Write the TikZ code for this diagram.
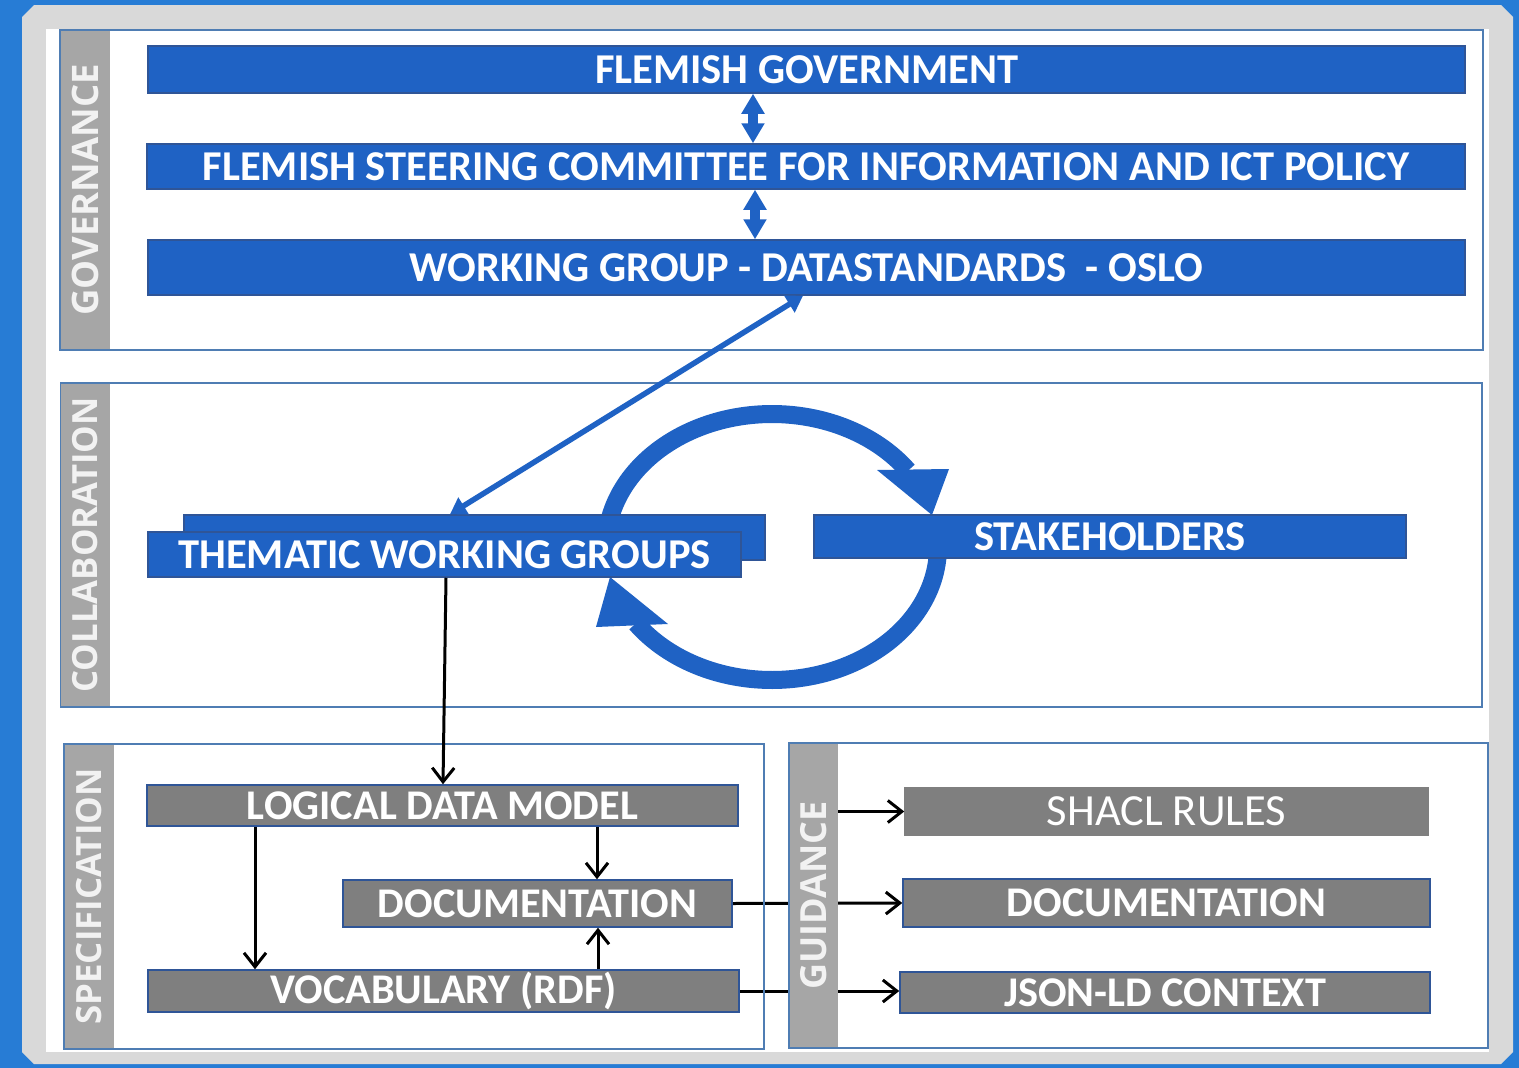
\documentclass[tikz,border=0pt]{standalone}
\usepackage{fontspec}
\setmainfont{Carlito}
\newfontfamily\lblfont{Open Sans}
\usetikzlibrary{arrows.meta,calc}
\definecolor{bgblue}{HTML}{277CD5}
\definecolor{framegray}{HTML}{D9D9D9}
\definecolor{panelc}{HTML}{4F7DB3}
\definecolor{stripc}{HTML}{A6A6A6}
\definecolor{barblue}{HTML}{1F62C4}
\definecolor{barline}{HTML}{2F5597}
\definecolor{bargray}{HTML}{7F7F7F}
\definecolor{lblc}{HTML}{F2F2F2}
\pgfdeclarelayer{bottom}
\pgfdeclarelayer{lines}
\pgfsetlayers{bottom,lines,main}
\tikzset{
  panel/.style={draw=panelc, line width=2pt, inner sep=0pt},
  strip/.style={fill=stripc, inner sep=0pt},
  lbl/.style={text=lblc, font=\lblfont\bfseries\fontsize{#1}{#1}\selectfont, rotate=90, inner sep=0pt},
  bluebar/.style={fill=barblue, draw=barline, line width=1.5pt, inner sep=0pt, text=white, font=\bfseries\fontsize{42.5}{42.5}\selectfont},
  graybar/.style={fill=bargray, draw=barline, line width=1.5pt, inner sep=0pt, text=white, font=\bfseries\fontsize{42.3}{42.3}\selectfont},
  dblarrow/.style={draw=barblue, line width=10pt, {Triangle[width=22pt,length=20pt]}-{Triangle[width=22pt,length=20pt]}},
  bluelink/.style={draw=barblue, line width=5.5pt, {Triangle[width=19pt,length=16pt]}-{Triangle[width=19pt,length=16pt]}},
  ring/.style={draw=barblue, line width=18pt},
  blk/.style={draw=black, line width=3pt, -{Straight Barb[length=14pt,width=22pt]}}
}
\begin{document}
\begin{tikzpicture}[x=1pt,y=-1pt]
\useasboundingbox (0,0) rectangle (1519,1068);
\begin{pgfonlayer}{bottom}
\fill[bgblue] (0,0) rectangle (1519,1068);
\fill[framegray] (34,5) -- (1501,5) -- (1513,17) -- (1513,1052) -- (1501,1064) -- (34,1064) -- (22,1052) -- (22,17) -- cycle;
\fill[white] (46,29) rectangle (1489,1052);
\end{pgfonlayer}

% panels
\node[panel, minimum width=1423, minimum height=320] (govp) at (771.5,190) {};
\node[panel, minimum width=1421, minimum height=324] (colp) at (771.5,545) {};
\node[panel, minimum width=700, minimum height=305] (specp) at (414,896.5) {};
\node[panel, minimum width=699, minimum height=305] (guidp) at (1138.5,895.5) {};

% bars
\node[bluebar, minimum width=1317, minimum height=47] (fg) at (806.5,69.5) {FLEMISH GOVERNMENT};
\node[bluebar, minimum width=1318, minimum height=45] (sc) at (806,166.5) {FLEMISH STEERING COMMITTEE FOR INFORMATION AND ICT POLICY};
\node[bluebar, minimum width=1317, minimum height=55] (wg) at (806.5,267.5) {WORKING GROUP - DATASTANDARDS \ - OSLO};
\node[bluebar, minimum width=581, minimum height=45] (twb) at (474.5,537.5) {};
\node[bluebar, minimum width=593, minimum height=45] (tw) at (444.5,554.5) {THEMATIC WORKING GROUPS};
\node[bluebar, minimum width=592, minimum height=43] (sh) at (1110,536.5) {STAKEHOLDERS};

\node[graybar, minimum width=591, minimum height=41] (ldm) at (442.5,805.5) {LOGICAL DATA MODEL};
\node[graybar, minimum width=389, minimum height=47] (sdoc) at (537.5,903.5) {DOCUMENTATION};
\node[graybar, minimum width=591, minimum height=42] (voc) at (443.5,991) {VOCABULARY (RDF)};
\node[graybar, draw=bargray, font=\mdseries\fontsize{44.5}{44.5}\selectfont, minimum width=523, minimum height=47] (shacl) at (1166.5,811.5) {SHACL RULES};
\node[graybar, minimum width=527, minimum height=48] (gdoc) at (1166.5,903) {DOCUMENTATION};
\node[graybar, minimum width=530, minimum height=41] (json) at (1165,992.5) {JSON-LD CONTEXT};

% strips
\node[strip, minimum width=49, minimum height=318] (govs) at (85.5,190) {};
\node[lbl=36.5] at (govs) {GOVERNANCE};
\node[strip, minimum width=49, minimum height=322] (cols) at (85.5,545) {};
\node[lbl=34.7] at (cols) {COLLABORATION};
\node[strip, minimum width=49, minimum height=303] (specs) at (89.5,896.5) {};
\node[lbl=34.8] at (specs) {SPECIFICATION};
\node[strip, minimum width=48, minimum height=303] (guids) at (814,895.5) {};
\node[lbl=36] at (guids) {GUIDANCE};

% coordinates for connector x positions
\coordinate (x753) at (753,0);
\coordinate (x755) at (755,0);
\coordinate (x803) at (803,0);
\coordinate (x450) at (450,0);
\coordinate (x446) at (446,0);
\coordinate (x443) at (443,0);
\coordinate (x255) at (255,0);
\coordinate (x597) at (597,0);
\coordinate (x598) at (598,0);

\begin{pgfonlayer}{lines}
% circular arrows
\draw[ring] plot[domain=180:325, samples=80] ({772+166*cos(\x)},{547+133*sin(\x)});
\fill[barblue] (877,470) -- (949,469) -- (932,515) -- cycle;
\draw[ring] plot[domain=0:145, samples=80] ({772+166*cos(\x)},{547+133*sin(\x)});
\fill[barblue] (596,627) -- (668,624) -- (610,577) -- cycle;
% lines crossing guidance strip
\draw[blk] (sdoc.east) -- (gdoc.west);
\draw[blk] (voc.east) -- (voc.east -| json.west);
\end{pgfonlayer}

% governance arrows
\draw[dblarrow] (fg.south -| x753) -- (sc.north -| x753);
\draw[dblarrow] (sc.south -| x755) -- (wg.north -| x755);
\draw[bluelink] (wg.south -| x803) -- (twb.north -| x450);

% black arrows
\draw[blk] (tw.south -| x446) -- (ldm.north -| x443);
\draw[blk] (ldm.south -| x255) -- (voc.north -| x255);
\draw[blk] (ldm.south -| x597) -- (sdoc.north -| x597);
\draw[blk] (voc.north -| x598) -- (sdoc.south -| x598);
\draw[blk] (guids.east |- shacl.west) -- (shacl.west);
\end{tikzpicture}
\end{document}
